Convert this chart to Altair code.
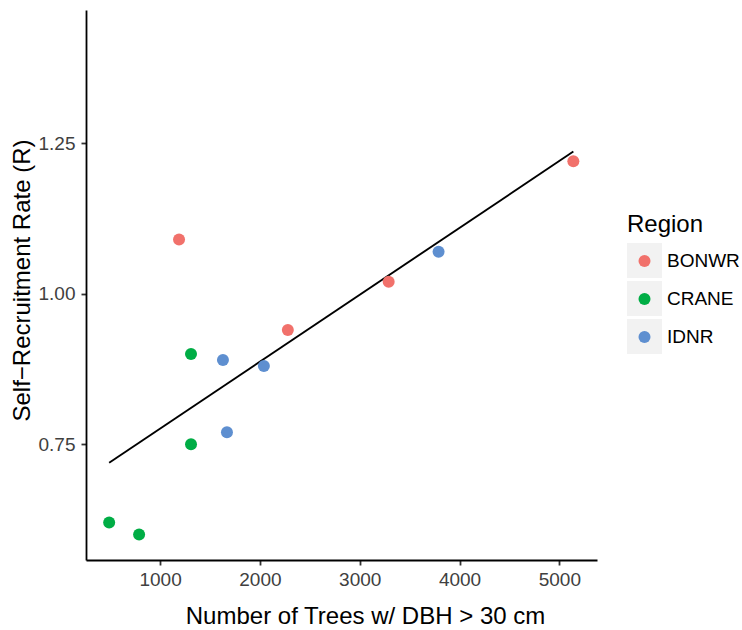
import altair as alt
import pandas as pd

regions = ["BONWR"] * 4 + ["CRANE"] * 4 + ["IDNR"] * 4
trees = [1190, 2280, 3290, 5140, 490, 790, 1310, 1310, 1630, 1670, 2040, 3790]
rate = [1.09, 0.94, 1.02, 1.22, 0.62, 0.60, 0.90, 0.75, 0.89, 0.77, 0.88, 1.07]
region_names = ["BONWR", "CRANE", "IDNR"]
region_colors = ["#F1716B", "#00AD45", "#5E8FD0"]
x_ticks = [1000, 2000, 3000, 4000, 5000]
y_ticks = [0.75, 1.00, 1.25]

df = pd.DataFrame({"Region": regions, "trees": trees, "rate": rate})
df["RegionBG"] = df["Region"]

FONT = "Liberation Sans"
xdom = [258, 5377]
ydom = [0.5578, 1.4714]

x_enc = alt.X(
    "trees:Q",
    scale=alt.Scale(domain=xdom, nice=False, zero=False),
    axis=alt.Axis(
        values=x_ticks, format="d", title="Number of Trees w/ DBH > 30 cm",
        labelBaseline="alphabetic", labelPadding=20,
        titleX=279, titleY=63, titleBaseline="alphabetic", titleAnchor="middle",
    ),
)
y_enc = alt.Y(
    "rate:Q",
    scale=alt.Scale(domain=ydom, nice=False, zero=False),
    axis=alt.Axis(
        values=y_ticks, format=".2f", title="Self\u2212Recruitment Rate (R)",
        labelPadding=6, titleX=-57, titleY=270, titleAngle=270,
        titleBaseline="alphabetic", titleAnchor="middle",
    ),
)

base = alt.Chart(df)

bg = base.mark_point(filled=True, color="#F2F2F2", opacity=0, size=0).encode(
    x=x_enc, y=y_enc,
    shape=alt.Shape(
        "RegionBG:N",
        scale=alt.Scale(range=["square"]),
        legend=alt.Legend(
            orient="none", legendX=541, legendY=203, title="Region",
            titleFontSize=24, titleFont=FONT, titleFontWeight="normal", titleColor="black",
            titleBaseline="top", titlePadding=6, labelExpr="''", labelFontSize=19,
            labelFont=FONT, labelOffset=0, symbolType="square", symbolSize=1225,
            symbolFillColor="#F2F2F2", symbolStrokeWidth=0, symbolOpacity=1,
            rowPadding=3, padding=0, symbolOffset=0,
        ),
    ),
)

pts = base.mark_circle(size=144, opacity=1).encode(
    x=x_enc, y=y_enc,
    color=alt.Color(
        "Region:N",
        scale=alt.Scale(domain=region_names, range=region_colors),
        legend=alt.Legend(
            orient="none", legendX=541, legendY=241.5, title=None,
            labelFontSize=19, labelFont=FONT,
            labelColor="black", labelOffset=13, symbolType="circle", symbolSize=144,
            symbolStrokeWidth=5.75, symbolStrokeColor="transparent", symbolOpacity=1,
            rowPadding=3, padding=0, symbolOffset=8,
        ),
    ),
)

line = base.transform_regression("trees", "rate").mark_line(
    color="black", strokeWidth=1.9
).encode(x=x_enc, y=y_enc)

chart = alt.layer(bg, line, pts).properties(
    width=511, height=550,
    autosize=alt.AutoSizeParams(type="none"),
    padding={"left": 86, "top": 10, "right": 145, "bottom": 70},
).configure_view(stroke=None).configure_axis(
    grid=False, domainColor="black", domainWidth=1.8, tickColor="#333333",
    tickWidth=1.8, tickSize=5, labelFont=FONT, labelFontSize=19,
    labelColor="#404040", titleFont=FONT, titleFontSize=24,
    titleColor="black", titleFontWeight="normal",
)

chart.save("out.html", embed_options={"renderer": "svg", "actions": False})
